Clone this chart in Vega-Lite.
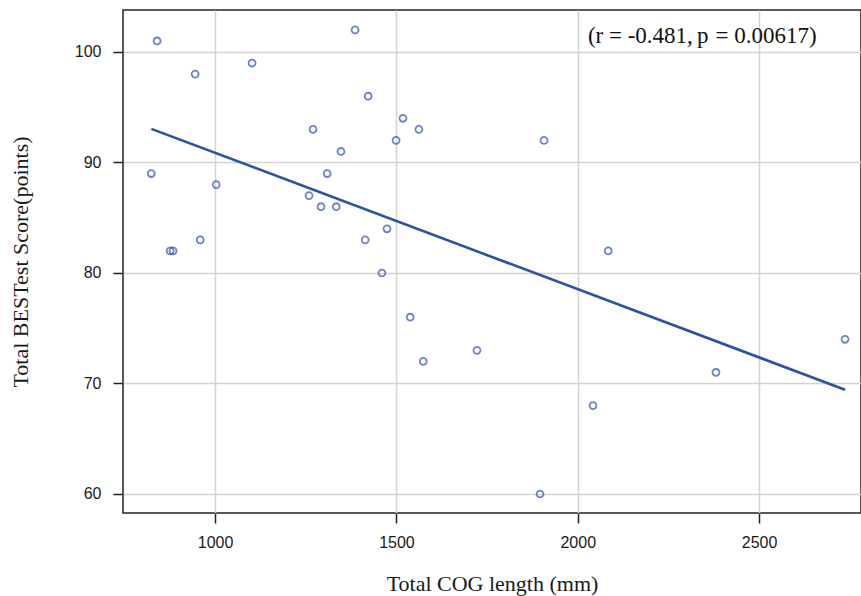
{
  "$schema": "https://vega.github.io/schema/vega-lite/v6.json",
  "width": 738,
  "height": 503,
  "autosize": {"type": "none"},
  "padding": {"left": 123, "top": 10, "right": 0, "bottom": 83},
  "background": "white",
  "config": {
    "view": {"stroke": "#222222", "strokeWidth": 1.5},
    "axis": {
      "domain": false,
      "grid": true,
      "gridColor": "#d3d3d3",
      "gridWidth": 1.5,
      "tickColor": "#222222",
      "tickSize": 10,
      "tickWidth": 1.5,
      "labelFont": "Liberation Sans",
      "labelFontSize": 16,
      "labelColor": "#1a1a1a",
      "titleFont": "Liberation Serif",
      "titleFontSize": 22,
      "titleFontWeight": "normal",
      "titleColor": "#1a1a1a"
    }
  },
  "datasets": {
    "pts": [
      {"cog": 824, "score": 89},
      {"cog": 840, "score": 101},
      {"cog": 945, "score": 98},
      {"cog": 876, "score": 82},
      {"cog": 884, "score": 82},
      {"cog": 959, "score": 83},
      {"cog": 1003, "score": 88},
      {"cog": 1102, "score": 99},
      {"cog": 1259, "score": 87},
      {"cog": 1270, "score": 93},
      {"cog": 1292, "score": 86},
      {"cog": 1309, "score": 89},
      {"cog": 1334, "score": 86},
      {"cog": 1347, "score": 91},
      {"cog": 1386, "score": 102},
      {"cog": 1422, "score": 96},
      {"cog": 1414, "score": 83},
      {"cog": 1518, "score": 94},
      {"cog": 1562, "score": 93},
      {"cog": 1499, "score": 92},
      {"cog": 1474, "score": 84},
      {"cog": 1460, "score": 80},
      {"cog": 1538, "score": 76},
      {"cog": 1574, "score": 72},
      {"cog": 1722, "score": 73},
      {"cog": 1907, "score": 92},
      {"cog": 1896, "score": 60},
      {"cog": 2042, "score": 68},
      {"cog": 2084, "score": 82},
      {"cog": 2381, "score": 71},
      {"cog": 2737, "score": 74}
    ],
    "ann": [
      {"cog": 2028, "score": 100.8, "part": "a", "txt": "(r = -0.481,"},
      {"cog": 2329, "score": 100.8, "part": "p", "txt": "p"},
      {"cog": 2380, "score": 100.8, "part": "b", "txt": "= 0.00617)"}
    ]
  },
  "layer": [
    {
      "data": {"name": "pts"},
      "mark": {"type": "point", "shape": "circle", "filled": false, "size": 48, "strokeWidth": 1.8, "color": "#2f52b0", "clip": true},
      "encoding": {
        "x": {"field": "cog", "type": "quantitative", "title": "Total COG length (mm)",
              "scale": {"domain": [746, 2781], "nice": false, "zero": false},
              "axis": {"values": [1000, 1500, 2000, 2500], "format": "d", "labelPadding": 11, "titlePadding": 23}},
        "y": {"field": "score", "type": "quantitative", "title": "Total BESTest Score(points)",
              "scale": {"domain": [58.28, 103.8], "nice": false, "zero": false},
              "axis": {"values": [60, 70, 80, 90, 100], "format": "d", "labelPadding": 12, "titlePadding": 42}}
      }
    },
    {
      "data": {"name": "pts"},
      "transform": [{"regression": "score", "on": "cog"}],
      "mark": {"type": "line", "color": "#2a52a8", "strokeWidth": 2.6},
      "encoding": {
        "x": {"field": "cog", "type": "quantitative"},
        "y": {"field": "score", "type": "quantitative"}
      }
    },
    {
      "data": {"name": "ann"},
      "mark": {"type": "text", "align": "left", "baseline": "alphabetic", "font": "Liberation Serif", "fontSize": 23, "color": "#111111"},
      "encoding": {
        "x": {"field": "cog", "type": "quantitative"},
        "y": {"field": "score", "type": "quantitative"},
        "text": {"field": "txt"},
        "fontStyle": {"condition": {"test": "datum.part === 'p'", "value": "italic"}, "value": "normal"}
      }
    }
  ]
}
